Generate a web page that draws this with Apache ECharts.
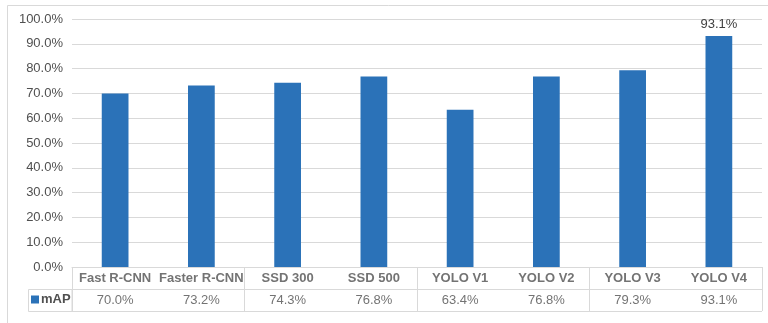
<!DOCTYPE html>
<html>
<head>
<meta charset="utf-8">
<script src="https://cdn.jsdelivr.net/npm/echarts@6/dist/echarts.min.js"></script>
<style>
  html, body { margin: 0; padding: 0; background: #ffffff; }
  #chart { width: 768px; height: 323px; }
</style>
</head>
<body>
<div id="chart"></div>
<script>
// Detector names and their mAP scores (percent)
const categories = ['Fast R-CNN', 'Faster R-CNN', 'SSD 300', 'SSD 500', 'YOLO V1', 'YOLO V2', 'YOLO V3', 'YOLO V4'];
const mapValues = [70.0, 73.2, 74.3, 76.8, 63.4, 76.8, 79.3, 93.1];
const seriesName = 'mAP';
const yTicks = { min: 0, max: 100, interval: 10 };

const GRID_LINE = '#d9d9d9';
const TEXT = '#505050';
const BAR = '#2b72b8';
const FONT = '"Liberation Sans", Arial, Helvetica, sans-serif';

const fmt = v => v.toFixed(1) + '%';

const chart = echarts.init(document.getElementById('chart'), null, { renderer: 'canvas' });

chart.setOption({
  animation: false,
  backgroundColor: '#ffffff',
  textStyle: { fontFamily: FONT },
  legend: {
    data: [seriesName],
    left: 31, top: 293,
    icon: 'rect', itemWidth: 8, itemHeight: 8, itemGap: 0,
    padding: 0,
    textStyle: { fontFamily: FONT, fontSize: 13, fontWeight: 'bold', color: TEXT, padding: [0, 0, 0, -3] }
  },
  grid: [
    { left: 72, right: 6, top: 19, height: 248 },
    { left: 72, right: 6, top: 267, height: 44 }
  ],
  xAxis: [
    {
      gridIndex: 0, type: 'category', data: categories,
      axisLine: { show: true, lineStyle: { color: GRID_LINE } },
      axisTick: { show: false }, axisLabel: { show: false }
    },
    {
      gridIndex: 1, type: 'category', data: categories, position: 'top',
      axisLine: { show: false }, axisTick: { show: false }, axisLabel: { show: false },
      splitLine: { show: true, lineStyle: { color: GRID_LINE } }
    }
  ],
  yAxis: [
    {
      gridIndex: 0, type: 'value', min: yTicks.min, max: yTicks.max, interval: yTicks.interval,
      axisLine: { show: false }, axisTick: { show: false },
      axisLabel: { formatter: v => fmt(v), color: TEXT, fontSize: 13, fontFamily: FONT, margin: 9 },
      splitLine: { lineStyle: { color: GRID_LINE } }
    },
    {
      gridIndex: 1, type: 'value', min: 0, max: 2, interval: 1,
      axisLine: { show: false }, axisTick: { show: false }, axisLabel: { show: false },
      splitLine: { show: true, lineStyle: { color: GRID_LINE } }
    }
  ],
  series: [
    {
      name: seriesName, type: 'bar', xAxisIndex: 0, yAxisIndex: 0,
      barWidth: '31%',
      itemStyle: { color: BAR },
      data: mapValues.map((v, i) => ({
        value: v,
        label: {
          show: i === mapValues.length - 1,
          position: 'top', distance: 5,
          formatter: p => fmt(p.value),
          color: '#404040', fontSize: 13, fontFamily: FONT
        }
      }))
    },
    {
      // header row of the data table: detector names
      type: 'scatter', xAxisIndex: 1, yAxisIndex: 1, symbolSize: 0, silent: true,
      data: categories.map((c, i) => [i, 1.5]),
      label: {
        show: true, position: 'inside',
        formatter: p => categories[p.data[0]],
        color: TEXT, fontSize: 13, fontWeight: 'bold', fontFamily: FONT
      }
    },
    {
      // value row of the data table
      type: 'scatter', xAxisIndex: 1, yAxisIndex: 1, symbolSize: 0, silent: true,
      data: mapValues.map((v, i) => [i, 0.5]),
      label: {
        show: true, position: 'inside',
        formatter: p => fmt(mapValues[p.data[0]]),
        color: TEXT, fontSize: 13, fontFamily: FONT
      }
    }
  ],
  graphic: [
    {
      type: 'rect', silent: true, z: -1,
      shape: { x: 7.5, y: 5.5, width: 800, height: 400 },
      style: { fill: 'none', stroke: GRID_LINE, lineWidth: 1 }
    },
    {
      type: 'rect', silent: true,
      shape: { x: 28.5, y: 289.5, width: 43.5, height: 22 },
      style: { fill: 'none', stroke: GRID_LINE, lineWidth: 1 }
    }
  ]
});
</script>
</body>
</html>
